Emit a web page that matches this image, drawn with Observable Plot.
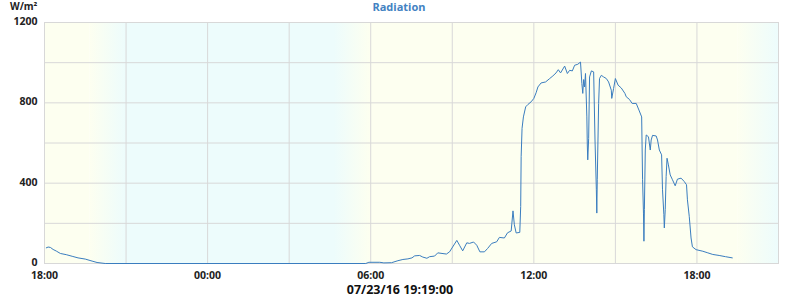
<!DOCTYPE html>
<html>
<head>
<meta charset="utf-8">
<script src="https://cdn.jsdelivr.net/npm/d3@7"></script>
<script src="https://cdn.jsdelivr.net/npm/@observablehq/plot@0.6"></script>
<style>
  html, body { margin: 0; padding: 0; background: #fff; }
  #wrap { position: relative; width: 800px; height: 300px; font-family: "Open Sans", sans-serif; }
  #wrap svg { position: absolute; left: 0; top: 0; }
  .lbl { position: absolute; font-weight: bold; white-space: nowrap; line-height: 1.2; }
  #unit { left: 10px; top: 0px; font-size: 10px; color: #222; }
  #title { left: 0; width: 798px; text-align: center; top: 0px; font-size: 11px; color: #4282c2; }
  #stamp { left: 0; width: 800px; text-align: center; top: 284px; font-size: 12.5px; line-height: 1; color: #111; }
</style>
</head>
<body>
<div id="wrap">
  <div class="lbl" id="unit">W/m²</div>
  <div class="lbl" id="title">Radiation</div>
  <div class="lbl" id="stamp">07/23/16 19:19:00</div>
</div>
<script>
// ---- data ----
const title = "Radiation";
const unit = "W/m²";
const stamp = "07/23/16 19:19:00";
const domainStart = "07/22 18:00";
const domainEnd = "07/23 21:00";

const times = [
  "07/22 18:04","07/22 18:08","07/22 18:13","07/22 18:19","07/22 18:26","07/22 18:35","07/22 18:48",
  "07/22 19:01","07/22 19:14","07/22 19:30","07/22 19:45","07/22 19:56","07/22 20:14",
  "07/23 05:49","07/23 05:56","07/23 06:20","07/23 06:29","07/23 06:46","07/23 07:00","07/23 07:11",
  "07/23 07:22","07/23 07:31","07/23 07:37","07/23 07:48","07/23 07:55","07/23 08:04","07/23 08:10",
  "07/23 08:21","07/23 08:28","07/23 08:47","07/23 08:54","07/23 09:10","07/23 09:16","07/23 09:23",
  "07/23 09:32","07/23 09:38","07/23 09:47","07/23 09:54","07/23 10:01","07/23 10:11","07/23 10:18",
  "07/23 10:27","07/23 10:38","07/23 10:44","07/23 10:55","07/23 11:02","07/23 11:10","07/23 11:14",
  "07/23 11:17","07/23 11:21","07/23 11:29","07/23 11:31","07/23 11:32","07/23 11:34","07/23 11:37",
  "07/23 11:42","07/23 11:47","07/23 11:54","07/23 12:00","07/23 12:05","07/23 12:09","07/23 12:16",
  "07/23 12:26","07/23 12:35","07/23 12:42","07/23 12:49","07/23 12:54","07/23 12:59","07/23 13:08",
  "07/23 13:14","07/23 13:19","07/23 13:25","07/23 13:30","07/23 13:37","07/23 13:43","07/23 13:46",
  "07/23 13:48","07/23 13:50","07/23 13:52","07/23 13:54","07/23 13:57","07/23 13:58","07/23 13:59",
  "07/23 14:01","07/23 14:03","07/23 14:07","07/23 14:12","07/23 14:15","07/23 14:18","07/23 14:19",
  "07/23 14:20","07/23 14:23","07/23 14:25","07/23 14:29","07/23 14:34","07/23 14:40","07/23 14:45",
  "07/23 14:51","07/23 14:52","07/23 14:56","07/23 15:00","07/23 15:06","07/23 15:13","07/23 15:21",
  "07/23 15:24","07/23 15:31","07/23 15:37","07/23 15:46","07/23 15:52","07/23 15:58","07/23 16:00",
  "07/23 16:02","07/23 16:03","07/23 16:04","07/23 16:06","07/23 16:08","07/23 16:13","07/23 16:17",
  "07/23 16:19","07/23 16:22","07/23 16:30","07/23 16:33","07/23 16:37","07/23 16:42","07/23 16:44",
  "07/23 16:47","07/23 16:48","07/23 16:50","07/23 16:52","07/23 16:54","07/23 16:57","07/23 17:01",
  "07/23 17:06","07/23 17:12","07/23 17:17","07/23 17:25","07/23 17:32","07/23 17:37","07/23 17:39",
  "07/23 17:43","07/23 17:47","07/23 17:50","07/23 17:58","07/23 18:13","07/23 18:24","07/23 18:35",
  "07/23 18:49","07/23 19:03","07/23 19:18"
];
const radiation = [
  78,82,80,70,62,50,44,
  36,28,22,12,5,0,
  0,6,6,3,4,14,20,
  23,28,38,40,32,26,34,
  37,53,47,58,115,91,63,
  103,100,107,91,58,58,75,
  100,108,130,127,153,162,262,
  193,152,155,284,532,673,730,
  780,792,805,822,850,879,899,
  904,921,934,949,965,949,983,
  946,962,959,987,992,1003,896,
  847,916,879,946,730,590,516,
  623,929,959,954,615,367,251,
  417,797,921,937,929,921,904,
  863,822,871,921,888,874,847,
  830,817,797,797,764,730,417,
  251,111,268,565,640,631,565,
  615,638,635,615,565,541,367,
  243,177,268,433,524,491,441,
  417,387,420,425,408,392,317,
  235,127,83,69,61,53,45,
  40,34,28
];

// sky phases (day / dusk / night / dawn)
const phaseStart = ["07/22 18:00","07/22 19:40","07/22 21:00","07/23 04:40","07/23 06:00","07/23 19:30"];
const phaseEnd   = ["07/22 19:40","07/22 21:00","07/23 04:40","07/23 06:00","07/23 19:30","07/23 21:00"];
const phaseKind  = ["day","dusk","night","dawn","day","dusk"];

const yTicks = [0, 400, 800, 1200];

// ---- build ----
const parse = s => d3.utcParse("%Y/%m/%d %H:%M")("2016/" + s);
const series = times.map((t, i) => ({t: parse(t), v: radiation[i]}));
const phases = phaseStart.map((s, i) => ({a: parse(s), b: parse(phaseEnd[i]), k: phaseKind[i]}));

const DAY = "#fdfff0", NIGHT = "#edfcfc", GRID = "#d8d8d8";
const fillFor = {day: DAY, night: NIGHT, dusk: "url(#gDusk)", dawn: "url(#gDawn)"};

const x0 = parse(domainStart), x1 = parse(domainEnd);
const grid3 = d3.utcHour.every(3).range(x0, d3.utcMinute.offset(x1, 1));
const grid6 = d3.utcHour.every(6).range(x0, x1);

const phaseMarks = ["day","dusk","night","dawn"].map(k =>
  Plot.rect(phases.filter(p => p.k === k), {x1: "a", x2: "b", fill: fillFor[k]})
);

const chart = Plot.plot({
  width: 800,
  height: 300,
  marginLeft: 44,
  marginRight: 22,
  marginTop: 22,
  marginBottom: 37,
  style: {fontFamily: "'Open Sans', sans-serif", fontSize: "10.5px", fontWeight: "bold", color: "#222", background: "transparent"},
  x: {type: "utc", domain: [x0, x1]},
  y: {domain: [0, 1200]},
  marks: [
    ...phaseMarks,
    Plot.gridX(grid3, {stroke: GRID, strokeOpacity: 1}),
    Plot.gridY(d3.range(0, 1201, 200), {stroke: GRID, strokeOpacity: 1}),
    Plot.frame({stroke: GRID}),
    Plot.axisX(grid6, {tickSize: 0, tickPadding: 8, tickFormat: d3.utcFormat("%H:%M"), label: null, fill: "#222", fontWeight: "bold"}),
    Plot.axisY(yTicks, {tickSize: 0, tickPadding: 7, dy: -1, tickFormat: d3.format("d"), label: null, fill: "#222", fontWeight: "bold"}),
    Plot.line(series, {x: "t", y: "v", stroke: "#3a7dbf", strokeWidth: 1, curve: "linear"})
  ]
});

// gradients for dusk / dawn
const ns = "http://www.w3.org/2000/svg";
const defs = document.createElementNS(ns, "defs");
function grad(id, c0, c1) {
  const g = document.createElementNS(ns, "linearGradient");
  g.setAttribute("id", id);
  g.setAttribute("x1", "0"); g.setAttribute("x2", "1"); g.setAttribute("y1", "0"); g.setAttribute("y2", "0");
  [[0, c0], [1, c1]].forEach(([o, c]) => {
    const s = document.createElementNS(ns, "stop");
    s.setAttribute("offset", o); s.setAttribute("stop-color", c);
    g.appendChild(s);
  });
  defs.appendChild(g);
}
grad("gDusk", DAY, NIGHT);
grad("gDawn", NIGHT, DAY);
chart.insertBefore(defs, chart.firstChild);

document.getElementById("wrap").appendChild(chart);
document.getElementById("title").textContent = title;
document.getElementById("unit").textContent = unit;
document.getElementById("stamp").textContent = stamp;
</script>
</body>
</html>
